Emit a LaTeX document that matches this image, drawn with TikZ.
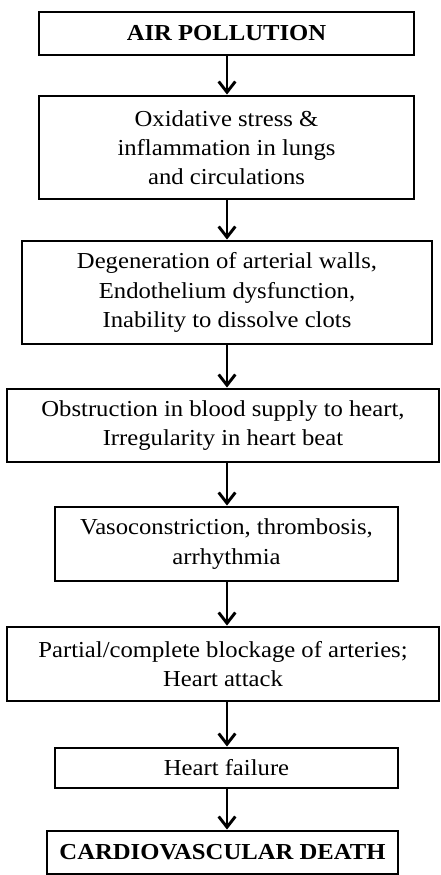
\documentclass[tikz,border=0pt]{standalone}
\usepackage{fontspec}
\setmainfont[FakeStretch=1.08]{Liberation Serif}
\usepackage{tikz}
\usetikzlibrary{arrows.meta,positioning}
\tikzset{
  box/.style={draw, line width=2.5pt, inner sep=2pt, align=center, fill=white,
    font=\fontsize{19.5}{25}\selectfont},
  headbox/.style={box, font=\fontsize{19.5}{25}\selectfont\bfseries},
  pre/.style={-{Straight Barb[length=3.2mm, width=5mm, line width=2.5pt]}, line width=2.5pt},
}

\begin{document}
\begin{tikzpicture}[x=0.03cm, y=-0.03cm]
\useasboundingbox (0,0) rectangle (440,875);
% ---------------- boxes, top to bottom
\node[headbox, minimum width=375*0.03cm, minimum height=43*0.03cm] (air) at (226.5,33.5) {AIR POLLUTION};
\node[box, minimum width=375*0.03cm, minimum height=103*0.03cm] (oxid) at (226.5,147.5)
  {Oxidative stress \&\\inflammation in lungs\\and circulations};
\node[box, minimum width=410*0.03cm, minimum height=103*0.03cm] (degen) at (227,292.5)
  {Degeneration of arterial walls,\\Endothelium dysfunction,\\Inability to dissolve clots};
\node[box, minimum width=432*0.03cm, minimum height=73*0.03cm] (obstr) at (223,425.5)
  {Obstruction in blood supply to heart,\\Irregularity in heart beat};
\node[box, minimum width=343*0.03cm, minimum height=74*0.03cm] (vaso) at (226.5,544)
  {Vasoconstriction, thrombosis,\\arrhythmia};
\node[box, minimum width=432*0.03cm, minimum height=74*0.03cm] (block) at (223,664)
  {Partial/complete blockage of arteries;\\Heart attack};
\node[box, minimum width=343*0.03cm, minimum height=40*0.03cm] (fail) at (226.5,768) {Heart failure};
\node[headbox, minimum width=351*0.03cm, minimum height=43*0.03cm] (death) at (222.5,852.5) {CARDIOVASCULAR DEATH};
% ---------------- arrows down the middle
\coordinate (axis) at (227,0);
\foreach \a/\b in {air/oxid, oxid/degen, degen/obstr, obstr/vaso, vaso/block, block/fail, fail/death} {
  \draw[pre] (\a.south -| axis) -- (\b.north -| axis);
}
\end{tikzpicture}
\end{document}
